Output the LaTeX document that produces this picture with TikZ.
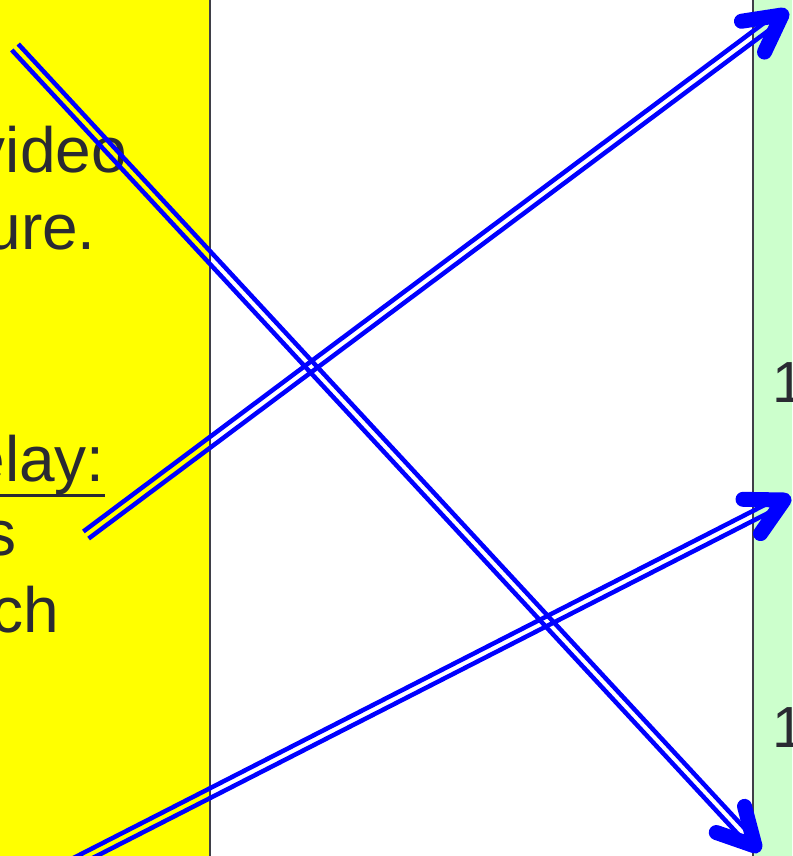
\documentclass[tikz,border=0pt]{standalone}
\usepackage{fontspec}
\setmainfont{Liberation Sans}
\usetikzlibrary{calc}
\definecolor{note}{HTML}{FFFF00}
\definecolor{mint}{HTML}{CCFFCC}
\definecolor{ink}{HTML}{2A2A32}
\definecolor{wire}{HTML}{0000FF}
% two thin parallel rails with a heavy open barb at the end
\newcommand{\twinarrow}[2]{%
  \coordinate (#2e) at ($(#2)!8pt!(#1)$);
  \draw[rail] ($(#1)!4.4pt!90:(#2)$) -- ($(#2e)!4.4pt!-90:(#1)$);
  \draw[rail] ($(#1)!4.4pt!-90:(#2)$) -- ($(#2e)!4.4pt!90:(#1)$);
  \draw[barb] ($(#2)!41pt!28:(#1)$) -- (#2) -- ($(#2)!41pt!-28:(#1)$);}

\begin{document}
\begin{tikzpicture}[
  x=1pt, y=-1pt,
  txt/.style={text=ink, font=\fontsize{64}{76}\selectfont, inner sep=0pt, anchor=base east},
  num/.style={txt, font=\fontsize{58}{68}\selectfont, anchor=base west},
  rail/.style={wire, line width=4.5pt},
  barb/.style={wire, line width=15pt, line cap=round, line join=round},
  edge/.style={draw=ink!90, line width=2pt},
]
\useasboundingbox (0,0) rectangle (792,856);
\clip (0,0) rectangle (792,856);

% ===== side panels =====
\fill[note] (-10,-10) rectangle (210,866);
\draw[edge] (210,-10) -- (210,866);
\fill[mint] (753,-10) rectangle (802,866);
\draw[edge] (753,-10) -- (753,866);

% ===== text cut by the left edge =====
\node[txt] (video) at (127,172) {video};
\node[txt] (ure)   at (96,249)  {ure.};
\node[txt] (delay) at (105,481) {elay:};
\draw[ink, line width=3pt] ($(delay.base west)+(0,14)$) -- ($(delay.base east)+(0,14)$);
\node[txt] (s)     at (17,555)  {s};
\node[txt] (ch)    at (59,632)  {ch};

% ===== numbers cut by the right edge =====
\node[num] (oneA) at (772,402) {1};
\node[num] (oneB) at (772,747) {1};

% ===== crossing arrows =====
\coordinate (fromA) at (15,47);   \coordinate (toA) at (755,846);
\coordinate (fromB) at (86,535);  \coordinate (toB) at (782,15);
\coordinate (fromC) at (40,880);  \coordinate (toC) at (784,500);
\twinarrow{fromA}{toA}
\twinarrow{fromB}{toB}
\twinarrow{fromC}{toC}
\end{tikzpicture}
\end{document}
